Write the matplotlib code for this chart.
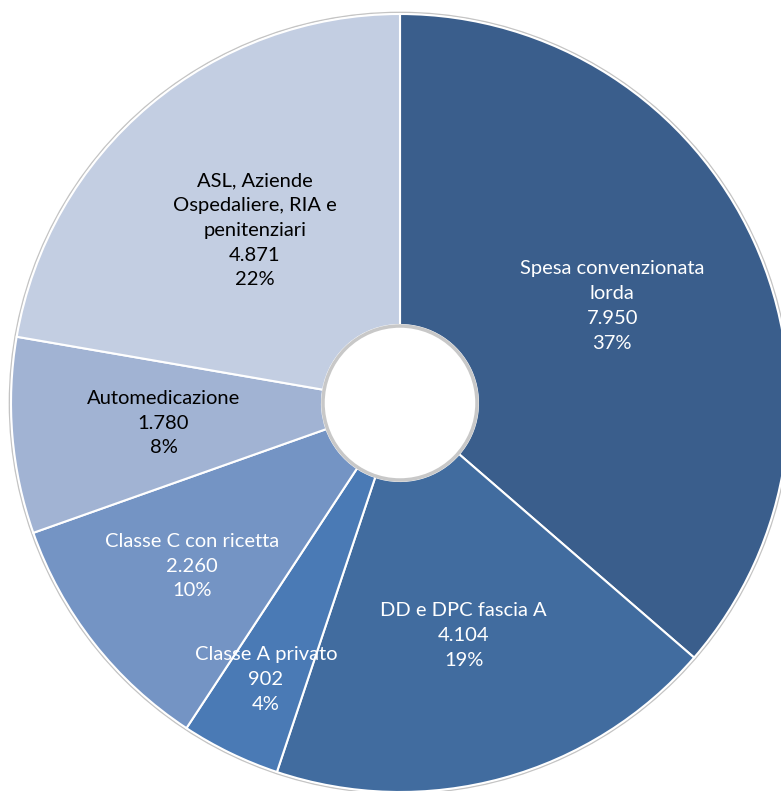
import numpy as np
import matplotlib.pyplot as plt
from matplotlib.patches import Circle

# Data
categories = ['Spesa convenzionata\nlorda', 'DD e DPC fascia A', 'Classe A privato',
              'Classe C con ricetta', 'Automedicazione',
              'ASL, Aziende\nOspedaliere, RIA e\npenitenziari']
values = [7950, 4104, 902, 2260, 1780, 4871]
pct_labels = ['37%', '19%', '4%', '10%', '8%', '22%']

colors = ['#3a5e8c', '#416c9f', '#4a7ab5', '#7494c4', '#a1b3d3', '#c3cee2']
text_colors = ['white', 'white', 'white', 'white', 'black', 'black']
label_r = [0.60, 0.62, 0.79, 0.68, 0.61, 0.58]

W, H = 781, 791
fig = plt.figure(figsize=(W / 100, H / 100), dpi=100)
ax = fig.add_axes([0, 0, 1, 1])

cx, cy = 400, H - 403
R, r_hole = 389, 78

wedges, _ = ax.pie(values, colors=colors, startangle=90, counterclock=False,
                   radius=R, center=(cx, cy),
                   wedgeprops=dict(width=R - r_hole, edgecolor='white', linewidth=1.5))

# faint shadows on outer edge and inner hole
ax.add_patch(Circle((cx, cy), R + 1.5, fill=False, edgecolor='#c4c4c4', linewidth=1.2, zorder=0))
ax.add_patch(Circle((cx, cy), r_hole - 1, fill=False, edgecolor='#c8c8c8', linewidth=2.5, zorder=5))

for w, cat, v, p, tc, f in zip(wedges, categories, values, pct_labels, text_colors, label_r):
    ang = np.deg2rad((w.theta1 + w.theta2) / 2)
    x = cx + f * R * np.cos(ang)
    y = cy + f * R * np.sin(ang)
    val_txt = f'{v:,}'.replace(',', '.')
    txt = f'{cat}\n{val_txt}\n{p}'
    ax.text(x, y, txt, ha='center', va='center', color=tc, fontsize=14.5,
            family='Lato', linespacing=1.55, zorder=6)

ax.set_xlim(0, W)
ax.set_ylim(0, H)
ax.set_aspect('equal')
ax.axis('off')

fig.savefig('out.png', dpi=100, facecolor='white')
